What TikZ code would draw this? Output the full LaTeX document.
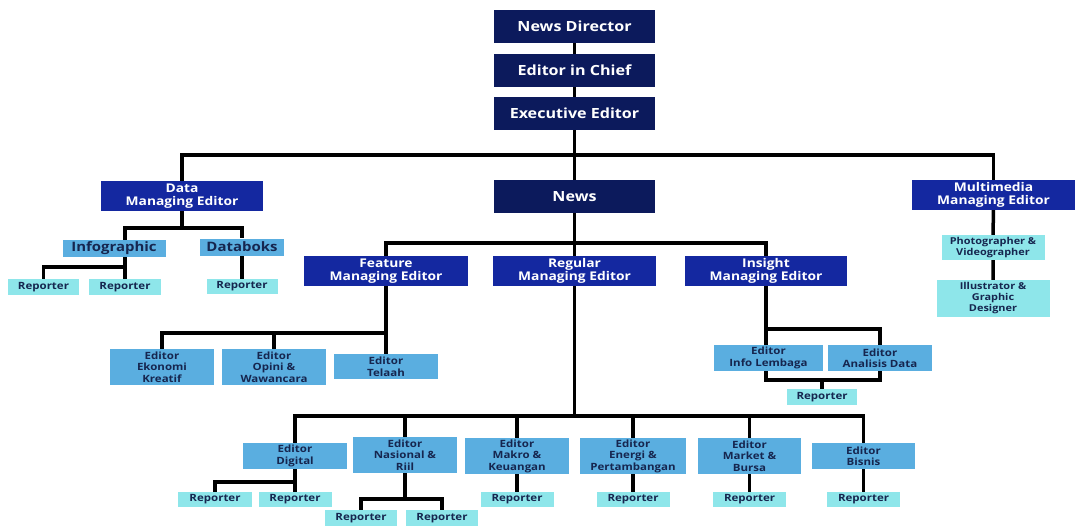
\documentclass[tikz,border=0pt]{standalone}
\usepackage{fontspec}
\setmainfont{Open Sans}[FakeStretch=1.15]
\usetikzlibrary{backgrounds}

\definecolor{navy}{HTML}{0C1A5C}
\definecolor{mgrblue}{HTML}{1428A0}
\definecolor{edblue}{HTML}{5AAEE0}
\definecolor{repcyan}{HTML}{8EE6EA}
\definecolor{edtext}{HTML}{16264F}

\tikzset{
	headbox/.style={fill=navy, text=white, inner sep=0pt, minimum width=161pt, minimum height=33pt, font=\fontsize{14}{16}\selectfont\bfseries},
	mgrbox/.style={fill=mgrblue, text=white, inner sep=0pt, align=center, minimum width=162pt, minimum height=30pt, font=\fontsize{12}{13.5}\selectfont\bfseries},
	subbox/.style={fill=edblue, text=edtext, inner sep=0pt, minimum height=17pt, font=\fontsize{13}{14}\selectfont\bfseries},
	edbox/.style={fill=edblue, text=edtext, inner sep=0pt, align=center, minimum width=104pt, font=\fontsize{10}{11.5}\selectfont\bfseries},
	repbox/.style={fill=repcyan, text=edtext, inner sep=0pt, minimum width=72pt, minimum height=15.5pt, font=\fontsize{10}{11}\selectfont\bfseries},
	staffbox/.style={fill=repcyan, text=edtext, inner sep=0pt, align=center, font=\fontsize{9.5}{11}\selectfont\bfseries},
	conn/.style={line width=3.5pt, black}
}

\begin{document}
\begin{tikzpicture}[x=1pt, y=-1pt]
	\useasboundingbox (0,0) rectangle (1083,527);

	\node [headbox] (dir) at (574.5,26.5) {News Director};
	\node [headbox] (chief) at (574.5,70.5) {Editor in Chief};
	\node [headbox] (exec) at (574.5,113.5) {Executive Editor};
	\node [headbox] (news) at (574.5,196.5) {News};

	\node [mgrbox] (data) at (182,196) {Data\\Managing Editor};
	\node [mgrbox, minimum width=163pt] (mm) at (993.5,195) {Multimedia\\Managing Editor};
	\node [subbox, minimum width=103pt] (infog) at (114,248.5) {Infographic};
	\node [subbox, minimum width=84pt] (databoks) at (242,247) {Databoks};
	\node [repbox, minimum width=71pt] (rep1) at (43.5,287) {Reporter};
	\node [repbox] (rep2) at (125,287) {Reporter};
	\node [repbox, minimum width=71pt] (rep3) at (242,286.5) {Reporter};

	\node [staffbox, minimum width=103pt, minimum height=25pt] (photo) at (993,247.5) {Photographer \&\\Videographer};
	\node [staffbox, minimum width=113pt, minimum height=37pt] (illus) at (993,298.5) {Illustrator \&\\Graphic\\Designer};

	\node [mgrbox, minimum width=164pt] (feat) at (386,271) {Feature\\Managing Editor};
	\node [mgrbox, minimum width=163pt] (reg) at (574.5,271) {Regular\\Managing Editor};
	\node [mgrbox] (ins) at (766,271) {Insight\\Managing Editor};

	\node [edbox, minimum height=36pt] (ekon) at (162,367) {Editor\\Ekonomi\\Kreatif};
	\node [edbox, minimum height=36pt] (opini) at (274,367) {Editor\\Opini \&\\Wawancara};
	\node [edbox, minimum height=25pt] (telaah) at (386,366.5) {Editor\\Telaah};
	\node [edbox, minimum width=109pt, minimum height=26pt] (lemb) at (768.5,358) {Editor\\Info Lembaga};
	\node [edbox, minimum height=26pt] (anal) at (880,358) {Editor\\Analisis Data};
	\node [repbox, minimum width=70pt] (repI) at (822,397) {Reporter};

	\node [edbox, minimum height=26pt] (digital) at (295,456) {Editor\\Digital};
	\node [edbox, minimum height=36pt] (nasional) at (405,455) {Editor\\Nasional \&\\Riil};
	\node [edbox, minimum height=36pt] (makro) at (517,456) {Editor\\Makro \&\\Keuangan};
	\node [edbox, minimum width=106pt, minimum height=36pt] (energi) at (633,456) {Editor\\Energi \&\\Pertambangan};
	\node [edbox, minimum width=103pt, minimum height=36pt] (market) at (749.5,456) {Editor\\Market \&\\Bursa};
	\node [edbox, minimum width=103pt, minimum height=26pt] (bisnis) at (863.5,456) {Editor\\Bisnis};

	\node [repbox, minimum width=74pt] (rd1) at (215,499.5) {Reporter};
	\node [repbox, minimum width=73pt] (rd2) at (295,499.5) {Reporter};
	\node [repbox] (rn1) at (361,518) {Reporter};
	\node [repbox] (rn2) at (442,518) {Reporter};
	\node [repbox, minimum width=73pt] (rmakro) at (517,499.5) {Reporter};
	\node [repbox, minimum width=73pt] (renergi) at (633,499.5) {Reporter};
	\node [repbox, minimum width=73pt] (rmarket) at (749.5,499.5) {Reporter};
	\node [repbox, minimum width=73pt] (rbisnis) at (863.5,499.5) {Reporter};

	\coordinate (bar1) at (0,155);
	\coordinate (bar2) at (0,228);
	\coordinate (bar3) at (0,267);
	\coordinate (bar4) at (0,243);
	\coordinate (bar5) at (0,333);
	\coordinate (bar6) at (0,329);
	\coordinate (bar7) at (0,380);
	\coordinate (bar8) at (0,416);
	\coordinate (bar9) at (0,482);
	\coordinate (bar10) at (0,499);

	\begin{pgfonlayer}{background}
		\draw [conn] (dir) -- (chief) -- (exec) -- (news);
		\draw [conn] (data.north) -- (data.north |- bar1) -| (mm.north);
		\draw [conn] (data.south) -- (data.south |- bar2);
		\draw [conn] ([xshift=11pt]infog.north) -- ([xshift=11pt]infog.north |- bar2) -| (databoks.north);
		\draw [conn] ([xshift=11pt]infog.south) -- (rep2.north);
		\draw [conn] (rep1.north) |- ([xshift=11pt]infog.south |- bar3);
		\draw [conn] (databoks) -- (rep3);
		\draw [conn] (mm) -- (photo) -- (illus);

		\draw [conn] (news) -- (reg);
		\draw [conn] (feat.north) -- (feat.north |- bar4) -| (ins.north);
		\draw [conn] (feat.south) -- (telaah.north);
		\draw [conn] (ekon.north) |- (feat.south |- bar5);
		\draw [conn] (opini.north) -- (opini.north |- bar5);
		\draw [conn] (ins.south) -- (ins.south |- bar7) -| (anal.north |- bar6) -- (ins.south |- bar6);
		\draw [conn] (repI.north) -- (repI.north |- bar7);

		\draw [conn] (reg.south) -- (reg.south |- bar8);
		\draw [conn] (digital.north) |- (bisnis.north |- bar8) -- (bisnis.north);
		\foreach \n in {nasional, makro, energi, market}
			\draw [conn] (\n.north) -- (\n.north |- bar8);
		\draw [conn] (digital.south) -- (rd2.north);
		\draw [conn] (rd1.north) |- (digital.south |- bar9);
		\draw [conn] (nasional.south) -- (nasional.south |- bar10);
		\draw [conn] (rn1.north) |- (rn2.north |- bar10) -- (rn2.north);
		\foreach \n in {makro, energi, market, bisnis}
			\draw [conn] (\n) -- (r\n);
	\end{pgfonlayer}
\end{tikzpicture}
\end{document}
